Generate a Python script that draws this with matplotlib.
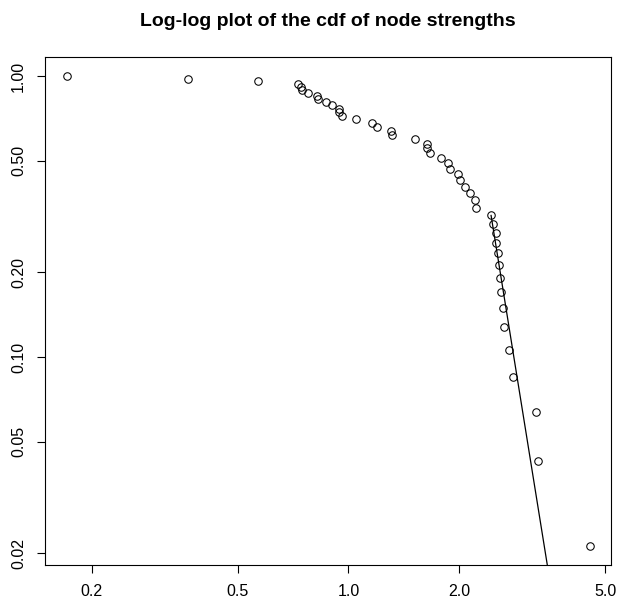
import numpy as np
import matplotlib
matplotlib.use("Agg")
import matplotlib.pyplot as plt
from matplotlib.ticker import FixedLocator, FixedFormatter, NullLocator

# node strengths (sorted)
strengths = [0.171, 0.366, 0.566, 0.730, 0.742, 0.749, 0.778, 0.821, 0.824,
             0.868, 0.903, 0.940, 0.944, 0.962, 1.048, 1.159, 1.193, 1.305,
             1.310, 1.515, 1.634, 1.638, 1.664, 1.790, 1.867, 1.887, 1.987,
             2.009, 2.080, 2.143, 2.211, 2.221, 2.446, 2.476, 2.523, 2.518,
             2.560, 2.567, 2.587, 2.598, 2.636, 2.645, 2.729, 2.812, 3.248,
             3.276, 4.550]
n_nodes = len(strengths)
# complementary cdf: fraction of nodes with strength >= s
cdf = [(n_nodes - i) / n_nodes for i in range(n_nodes)]

# power-law fit to the tail
fit_xmin = 2.446
fit_exponent = 8.12

x_ticks = [0.2, 0.5, 1.0, 2.0, 5.0]
x_labels = ["0.2", "0.5", "1.0", "2.0", "5.0"]
y_ticks = [0.02, 0.05, 0.10, 0.20, 0.50, 1.00]
y_labels = ["0.02", "0.05", "0.10", "0.20", "0.50", "1.00"]

plt.rcParams['font.family'] = ['Liberation Sans', 'DejaVu Sans']

fig = plt.figure(figsize=(6.19, 6.04), dpi=100)
ax = fig.add_axes([45 / 619, 39 / 604, 566 / 619, 508 / 604])

ax.plot(strengths, cdf, linestyle="none", marker="o", markersize=5.4,
        markerfacecolor="none", markeredgecolor="black", markeredgewidth=0.75)

# fitted line from xmin to the largest strength
tail_start = sum(1 for s in strengths if s < fit_xmin)
y0 = cdf[tail_start]
xs = np.linspace(fit_xmin, max(strengths), 200)
ax.plot(xs, y0 * (xs / fit_xmin) ** (-fit_exponent), color="black", linewidth=0.9)

ax.set_xscale("log")
ax.set_yscale("log")
ax.set_xlim(0.149, 5.19)
ax.set_ylim(0.0182, 1.169)

ax.xaxis.set_major_locator(FixedLocator(x_ticks))
ax.xaxis.set_major_formatter(FixedFormatter(x_labels))
ax.xaxis.set_minor_locator(NullLocator())
ax.yaxis.set_major_locator(FixedLocator(y_ticks))
ax.yaxis.set_major_formatter(FixedFormatter(y_labels))
ax.yaxis.set_minor_locator(NullLocator())

ax.tick_params(axis="both", direction="out", length=5.5, width=0.8, labelsize=11.5)
ax.tick_params(axis="x", pad=8)
ax.tick_params(axis="y", pad=8)
for lbl in ax.get_yticklabels():
    lbl.set_rotation(90)
    lbl.set_va("center")

for sp in ax.spines.values():
    sp.set_linewidth(0.8)

fig.text((45 + 611) / 2 / 619, 1 - 22 / 604, "Log-log plot of the cdf of node strengths",
         ha="center", va="center", fontsize=14, fontweight="bold")

fig.savefig("out.png", dpi=100)
